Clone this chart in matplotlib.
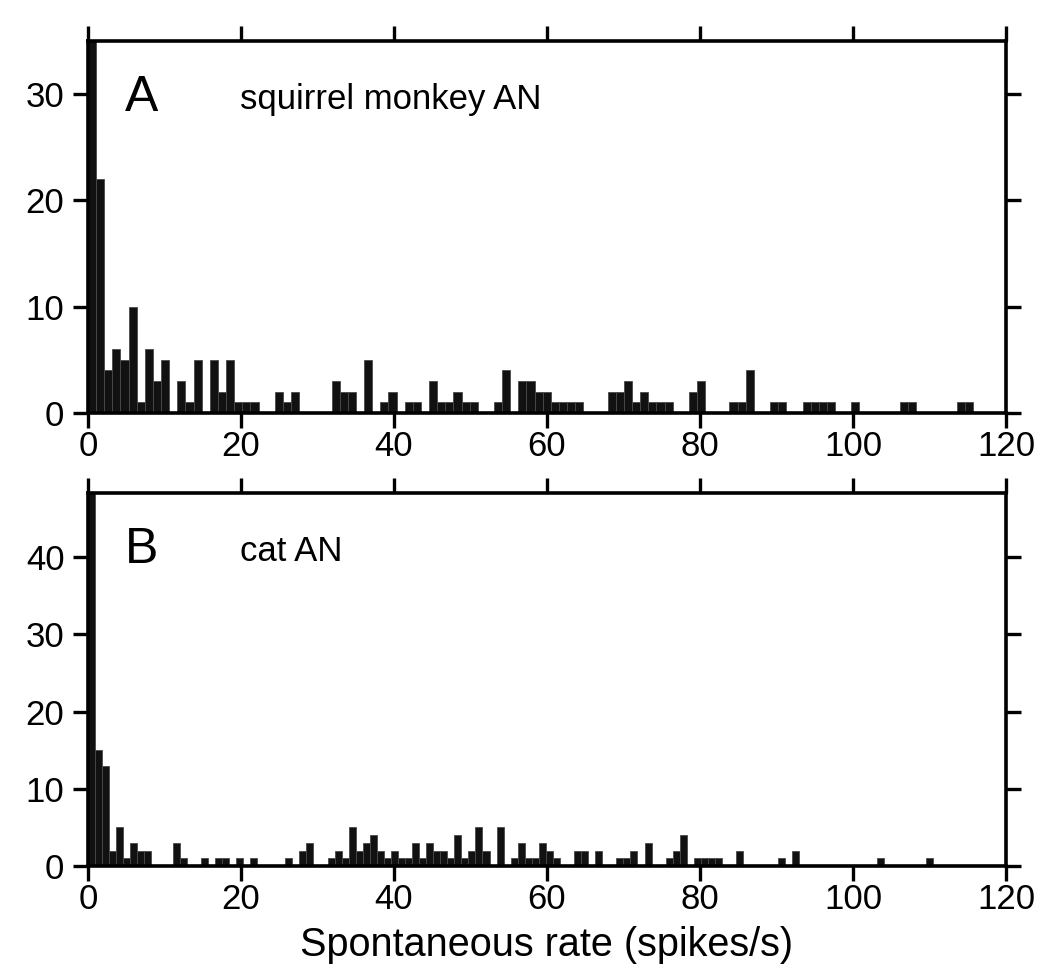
# spontaneous rate histograms, squirrel monkey vs cat auditory nerve

import numpy as np
import matplotlib
matplotlib.use("Agg")
import matplotlib.pyplot as plt

plt.rcParams['font.family'] = ['Liberation Sans', 'DejaVu Sans']

# panel A: squirrel monkey AN, 109 bins from 0 to ~115.7 spikes/s
rate_max_a = 115.7
counts_a = [40, 22, 4, 6, 5, 10, 1, 6, 3, 5,
            0, 3, 1, 5, 0, 5, 2, 5, 1, 1,
            1, 0, 0, 2, 1, 2, 0, 0, 0, 0,
            3, 2, 2, 0, 5, 0, 1, 2, 0, 1,
            1, 0, 3, 1, 1, 2, 1, 1, 0, 0,
            1, 4, 0, 3, 3, 2, 2, 1, 1, 1,
            1, 0, 0, 0, 2, 2, 3, 1, 2, 1,
            1, 1, 0, 0, 2, 3, 0, 0, 0, 1,
            1, 4, 0, 0, 1, 1, 0, 0, 1, 1,
            1, 1, 0, 0, 1, 0, 0, 0, 0, 0,
            1, 1, 0, 0, 0, 0, 0, 1, 1]

# panel B: cat AN, 120 bins from 0 to ~110.5 spikes/s
rate_max_b = 110.5
counts_b = [55, 15, 13, 2, 5, 1, 3, 2, 2, 0,
            0, 0, 3, 1, 0, 0, 1, 0, 1, 1,
            0, 1, 0, 1, 0, 0, 0, 0, 1, 0,
            2, 3, 0, 0, 1, 2, 1, 5, 2, 3,
            4, 2, 1, 2, 1, 1, 3, 1, 3, 2,
            2, 1, 4, 1, 2, 5, 2, 0, 5, 0,
            1, 3, 1, 1, 3, 2, 1, 0, 0, 2,
            2, 0, 2, 0, 0, 1, 1, 2, 0, 3,
            0, 0, 1, 2, 4, 0, 1, 1, 1, 1,
            0, 0, 2, 0, 0, 0, 0, 0, 1, 0,
            2, 0, 0, 0, 0, 0, 0, 0, 0, 0,
            0, 0, 1, 0, 0, 0, 0, 0, 0, 1]

panels = [
    ("A", "squirrel monkey AN", counts_a, rate_max_a, 35, [0, 10, 20, 30]),
    ("B", "cat AN", counts_b, rate_max_b, 48.3, [0, 10, 20, 30, 40]),
]
xticks = [0, 20, 40, 60, 80, 100, 120]

fig = plt.figure(figsize=(10.5, 9.77), dpi=100)
boxes = [[0.0838, 0.5773, 0.8743, 0.3808], [0.0838, 0.1136, 0.8743, 0.3818]]

for box, (letter, name, counts, rmax, ytop, yticks) in zip(boxes, panels):
    ax = fig.add_axes(box)
    edges = np.linspace(0, rmax, len(counts) + 1)
    ax.bar(edges[:-1], counts, width=edges[1] - edges[0], align="edge",
           color="#111111", edgecolor="#4a4a4a", linewidth=0.6)
    ax.set_xlim(0, 120)
    ax.set_ylim(0, ytop)
    ax.set_xticks(xticks)
    ax.set_yticks(yticks)
    ax.tick_params(direction="out", length=11, width=2.4, labelsize=25,
                   top=True, right=True)
    ax.tick_params(axis="x", pad=1)
    ax.tick_params(axis="y", pad=6)
    for sp in ax.spines.values():
        sp.set_linewidth(2.6)
    ax.text(0.040, 0.846, letter, transform=ax.transAxes, fontsize=36, va="center")
    ax.text(0.166, 0.842, name, transform=ax.transAxes, fontsize=25, va="center")

fig.text(0.521, 0.033, "Spontaneous rate (spikes/s)", ha="center", va="center",
         fontsize=28.5)

plt.savefig("out.png")
plt.close()
